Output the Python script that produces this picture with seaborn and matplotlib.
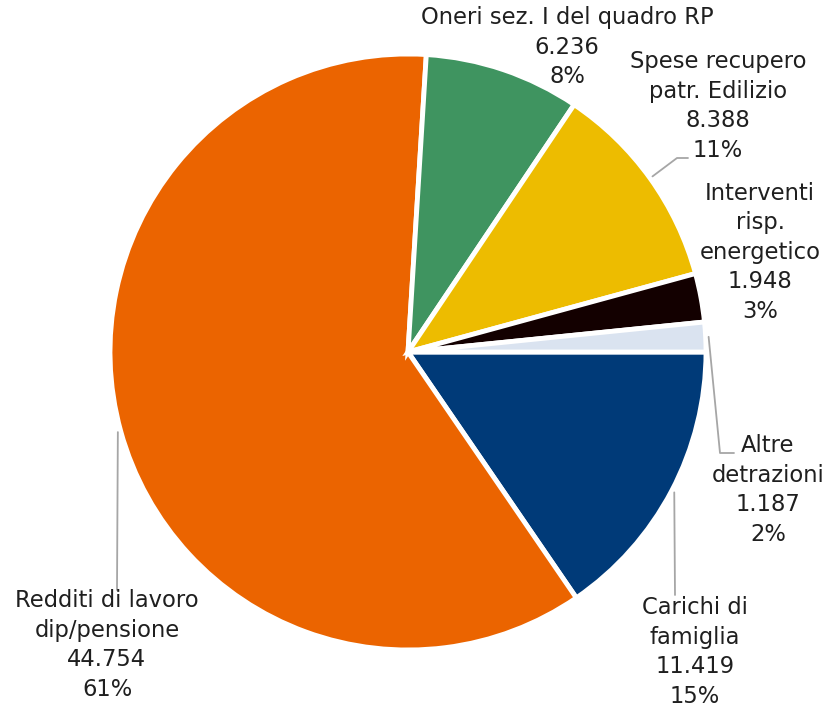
import numpy as np
import matplotlib
matplotlib.use("Agg")
import matplotlib.pyplot as plt
import seaborn as sns

# ================= DATA =================
categories = ["Carichi di\nfamiglia", "Redditi di lavoro\ndip/pensione",
              "Oneri sez. I del quadro RP", "Spese recupero\npatr. Edilizio",
              "Interventi\nrisp.\nenergetico", "Altre\ndetrazioni"]
values = [11419, 44754, 6236, 8388, 1948, 1187]
colors = ["#003A78", "#EB6400", "#3F9460", "#EDBC00", "#130000", "#DAE3F0"]

# ================= LAYOUT (pixels, y from top) =================
W, H = 825, 709
CENTER = (408, 352)
RADIUS = 298
LINE_STEP = 29.5
# label block centre, and end of leader line (None = no leader)
label_pos = [(695, 652), (107, 645), (567, 47), (718, 106), (760, 252), (768, 490)]
leader_end = [[(675, 595)], [(117, 590)], None, [(677, 158), (688, 158)],
              None, [(720, 453), (734, 453)]]

sns.set_theme(style="white")
plt.rcParams["font.family"] = ["DejaVu Sans"]

fig = plt.figure(figsize=(W / 100, H / 100), dpi=100)
ax = fig.add_axes([0, 0, 1, 1])

cx, cy = CENTER[0], H - CENTER[1]
wedges, _ = ax.pie(values, colors=colors, startangle=0, counterclock=False,
                   center=(cx, cy), radius=RADIUS, frame=True,
                   wedgeprops=dict(edgecolor="white", linewidth=3.5))
ax.set_xlim(0, W)
ax.set_ylim(0, H)
ax.axis("off")

total = sum(values)
for w, cat, v, pos, lead in zip(wedges, categories, values, label_pos, leader_end):
    pct = round(v / total * 100)
    lines = cat.split("\n") + [f"{v:,}".replace(",", "."), f"{pct}%"]
    y0 = pos[1] - (len(lines) - 1) * LINE_STEP / 2
    # one text per line keeps the boxes tight
    for i, line in enumerate(lines):
        ax.text(pos[0], H - (y0 + i * LINE_STEP), line, ha="center", va="center",
                fontsize=16.3, color="#1F1F1F")
    if lead:
        ang = np.deg2rad((w.theta1 + w.theta2) / 2)
        r = RADIUS + 3
        xs = [cx + r * np.cos(ang)] + [p[0] for p in lead]
        ys = [cy + r * np.sin(ang)] + [H - p[1] for p in lead]
        ax.plot(xs, ys, color="#A6A6A6", lw=1.3)

plt.savefig("out.png", dpi=100)
